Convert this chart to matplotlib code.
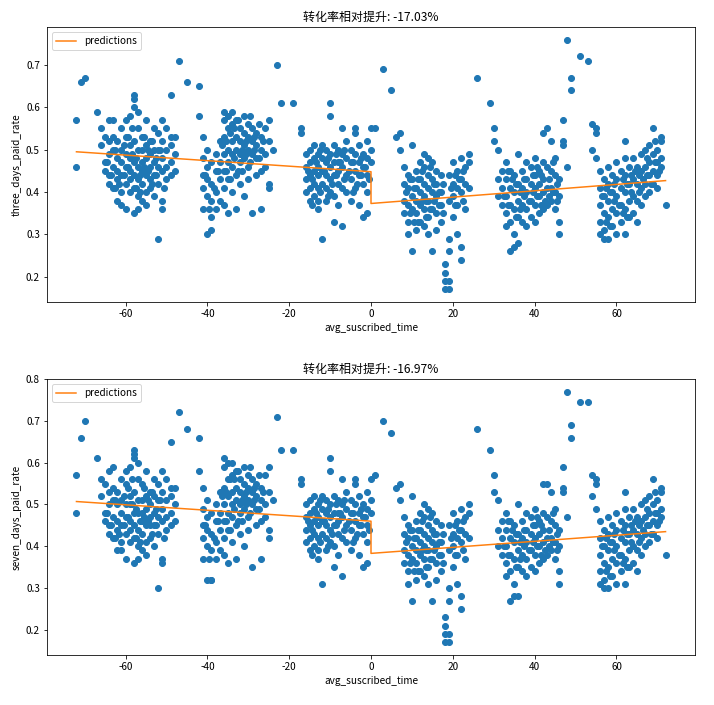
import matplotlib
matplotlib.use("Agg")
import matplotlib.pyplot as plt

plt.rcParams['font.family'] = ['Noto Sans CJK SC', 'DejaVu Sans']
plt.rcParams['axes.unicode_minus'] = False

# avg_suscribed_time clusters, with three / seven day paid rates
x_a = [-72, -72, -71, -70, -67, -66, -66, -65, -65, -65,
       -64, -64, -64, -64, -64, -63, -63, -63, -63, -63,
       -62, -62, -62, -62, -62, -61, -61, -61, -61, -61,
       -61, -60, -60, -60, -60, -60, -60, -59, -59, -59,
       -59, -59, -59, -58, -58, -58, -58, -58, -58, -58,
       -58, -57, -57, -57, -57, -57, -57, -57, -56, -56,
       -56, -56, -56, -56, -55, -55, -55, -55, -55, -55,
       -54, -54, -54, -54, -54, -53, -53, -53, -53, -53,
       -52, -52, -52, -52, -52, -51, -51, -51, -51, -51,
       -51, -50, -50, -50, -50, -49, -49, -49, -49, -49,
       -48, -48, -48,
       -64.5, -63.5, -62.5, -61.5, -60.5, -59.5, -58.5, -57.5, -56.5, -55.5,
       -54.5, -53.5, -52.5, -51.5, -50.5, -62.5, -60.5, -58.5, -56.5, -54.5,
       -52.5, -59.5, -57.5, -55.5, -53.5]
y3_a = [0.57, 0.46, 0.66, 0.67, 0.59, 0.55, 0.51, 0.53, 0.47, 0.45,
        0.57, 0.52, 0.49, 0.44, 0.42, 0.57, 0.53, 0.50, 0.46, 0.41,
        0.52, 0.48, 0.45, 0.43, 0.38, 0.55, 0.50, 0.47, 0.44, 0.40,
        0.37, 0.57, 0.53, 0.49, 0.46, 0.42, 0.36, 0.58, 0.51, 0.48,
        0.45, 0.43, 0.40, 0.63, 0.62, 0.60, 0.52, 0.47, 0.44, 0.41,
        0.35, 0.59, 0.55, 0.50, 0.46, 0.43, 0.39, 0.36, 0.53, 0.50,
        0.47, 0.45, 0.42, 0.38, 0.57, 0.51, 0.48, 0.44, 0.40, 0.37,
        0.52, 0.49, 0.46, 0.43, 0.41, 0.55, 0.50, 0.47, 0.44, 0.39,
        0.54, 0.50, 0.46, 0.42, 0.29, 0.57, 0.52, 0.48, 0.45, 0.38,
        0.36, 0.55, 0.50, 0.46, 0.43, 0.63, 0.53, 0.51, 0.47, 0.44,
        0.53, 0.49, 0.45,
        0.47, 0.44, 0.50, 0.42, 0.51, 0.46, 0.49, 0.41, 0.44, 0.53,
        0.45, 0.42, 0.48, 0.50, 0.41, 0.41, 0.44, 0.55, 0.40, 0.50,
        0.44, 0.53, 0.48, 0.46, 0.52]
y7_a = [0.57, 0.48, 0.66, 0.70, 0.61, 0.56, 0.52, 0.55, 0.48, 0.46,
        0.58, 0.53, 0.50, 0.45, 0.43, 0.59, 0.54, 0.51, 0.47, 0.42,
        0.53, 0.50, 0.46, 0.44, 0.39, 0.56, 0.51, 0.48, 0.45, 0.41,
        0.39, 0.58, 0.55, 0.50, 0.47, 0.43, 0.37, 0.59, 0.52, 0.50,
        0.46, 0.44, 0.41, 0.63, 0.62, 0.61, 0.53, 0.48, 0.45, 0.42,
        0.36, 0.60, 0.56, 0.51, 0.48, 0.44, 0.40, 0.37, 0.55, 0.51,
        0.48, 0.46, 0.43, 0.39, 0.58, 0.52, 0.49, 0.45, 0.41, 0.38,
        0.53, 0.50, 0.47, 0.45, 0.42, 0.56, 0.52, 0.48, 0.45, 0.40,
        0.55, 0.51, 0.47, 0.43, 0.30, 0.58, 0.53, 0.49, 0.46, 0.37,
        0.36, 0.56, 0.51, 0.47, 0.44, 0.65, 0.54, 0.52, 0.48, 0.45,
        0.54, 0.50, 0.46,
        0.48, 0.45, 0.51, 0.43, 0.52, 0.47, 0.50, 0.42, 0.46, 0.54,
        0.46, 0.43, 0.49, 0.51, 0.42, 0.42, 0.45, 0.56, 0.41, 0.51,
        0.45, 0.54, 0.49, 0.47, 0.53]

x_b = [-47, -45, -42, -42, -41, -41, -41, -41, -41, -40,
       -40, -40, -40, -40, -39, -39, -39, -39, -39, -38,
       -38, -38, -38, -37, -37, -37, -37, -36, -36, -36,
       -36, -36, -36, -36, -35, -35, -35, -35, -35, -35,
       -34, -34, -34, -34, -34, -34, -33, -33, -33, -33,
       -33, -32, -32, -32, -32, -32, -31, -31, -31, -31,
       -31, -30, -30, -30, -30, -30, -29, -29, -29, -29,
       -28, -28, -28, -28, -27, -27, -27, -27, -26, -26,
       -26, -25, -25, -25, -25, -24,
       -40.5, -39.5, -38.5, -37.5, -36.5, -35.5, -34.5, -33.5, -32.5, -31.5,
       -30.5, -29.5, -28.5, -27.5, -26.5, -35.5, -33.5, -31.5, -29.5, -27.5,
       -34.5, -32.5, -30.5, -28.5]
y3_b = [0.71, 0.66, 0.65, 0.58, 0.53, 0.48, 0.44, 0.41, 0.36, 0.50,
        0.46, 0.43, 0.39, 0.30, 0.47, 0.42, 0.38, 0.34, 0.31, 0.49,
        0.45, 0.40, 0.36, 0.52, 0.47, 0.43, 0.38, 0.59, 0.57, 0.53,
        0.49, 0.45, 0.41, 0.37, 0.58, 0.55, 0.50, 0.47, 0.43, 0.35,
        0.59, 0.56, 0.52, 0.49, 0.46, 0.40, 0.57, 0.53, 0.50, 0.44,
        0.36, 0.55, 0.52, 0.49, 0.47, 0.42, 0.58, 0.54, 0.51, 0.48,
        0.39, 0.56, 0.53, 0.50, 0.46, 0.43, 0.55, 0.52, 0.49, 0.35,
        0.54, 0.51, 0.48, 0.44, 0.53, 0.50, 0.45, 0.36, 0.55, 0.49,
        0.46, 0.57, 0.52, 0.42, 0.41, 0.50,
        0.44, 0.36, 0.41, 0.45, 0.51, 0.52, 0.54, 0.48, 0.57, 0.45,
        0.52, 0.47, 0.50, 0.56, 0.52, 0.45, 0.55, 0.50, 0.58, 0.48,
        0.43, 0.45, 0.49, 0.53]
y7_b = [0.72, 0.68, 0.66, 0.58, 0.54, 0.49, 0.45, 0.42, 0.37, 0.51,
        0.47, 0.44, 0.40, 0.32, 0.48, 0.43, 0.39, 0.32, 0.32, 0.50,
        0.46, 0.41, 0.37, 0.53, 0.48, 0.44, 0.39, 0.61, 0.59, 0.54,
        0.50, 0.46, 0.42, 0.38, 0.60, 0.56, 0.52, 0.48, 0.44, 0.36,
        0.60, 0.57, 0.53, 0.50, 0.47, 0.41, 0.58, 0.54, 0.51, 0.45,
        0.37, 0.56, 0.53, 0.50, 0.48, 0.43, 0.59, 0.55, 0.52, 0.49,
        0.40, 0.57, 0.54, 0.51, 0.47, 0.44, 0.56, 0.53, 0.50, 0.35,
        0.55, 0.52, 0.49, 0.45, 0.54, 0.51, 0.46, 0.37, 0.57, 0.50,
        0.47, 0.59, 0.53, 0.44, 0.42, 0.51,
        0.45, 0.37, 0.42, 0.46, 0.52, 0.53, 0.56, 0.49, 0.58, 0.46,
        0.53, 0.48, 0.51, 0.57, 0.53, 0.46, 0.56, 0.51, 0.59, 0.49,
        0.44, 0.46, 0.50, 0.54]

x_c = [-23, -22, -19, -17, -17, -16, -16, -16, -16, -15,
       -15, -15, -15, -15, -14, -14, -14, -14, -14, -13,
       -13, -13, -13, -13, -13, -12, -12, -12, -12, -12,
       -11, -11, -11, -11, -11, -10, -10, -10, -10, -10,
       -10, -9, -9, -9, -9, -9, -8, -8, -8, -8,
       -8, -7, -7, -7, -7, -7, -6, -6, -6, -6,
       -5, -5, -5, -5, -4, -4, -4, -4, -4, -3,
       -3, -3, -3, -2, -2, -2, -2, -1, -1, -1,
       -1, -1, 0, 0, 0,
       -15.5, -14.5, -13.5, -12.5, -11.5, -10.5, -9.5, -8.5, -7.5, -6.5,
       -5.5, -4.5, -3.5, -2.5, -1.5, -14.5, -12.5, -10.5, -8.5, -6.5,
       -4.5, -2.5, -0.5]
y3_c = [0.70, 0.61, 0.61, 0.55, 0.54, 0.49, 0.46, 0.43, 0.40, 0.50,
        0.47, 0.44, 0.41, 0.38, 0.51, 0.48, 0.45, 0.42, 0.39, 0.49,
        0.46, 0.44, 0.41, 0.38, 0.36, 0.51, 0.48, 0.45, 0.42, 0.29,
        0.50, 0.47, 0.44, 0.41, 0.38, 0.61, 0.58, 0.49, 0.46, 0.43,
        0.40, 0.51, 0.47, 0.44, 0.39, 0.33, 0.50, 0.47, 0.45, 0.42,
        0.37, 0.55, 0.49, 0.46, 0.41, 0.32, 0.52, 0.48, 0.44, 0.40,
        0.50, 0.47, 0.43, 0.38, 0.55, 0.54, 0.49, 0.45, 0.41, 0.51,
        0.47, 0.44, 0.37, 0.49, 0.46, 0.42, 0.34, 0.52, 0.48, 0.44,
        0.40, 0.35, 0.55, 0.50, 0.47,
        0.45, 0.43, 0.47, 0.40, 0.45, 0.48, 0.42, 0.44, 0.47, 0.43,
        0.45, 0.47, 0.42, 0.44, 0.46, 0.37, 0.50, 0.39, 0.49, 0.50,
        0.40, 0.48, 0.43]
y7_c = [0.71, 0.63, 0.63, 0.56, 0.55, 0.50, 0.47, 0.44, 0.41, 0.51,
        0.48, 0.45, 0.42, 0.39, 0.52, 0.49, 0.46, 0.43, 0.40, 0.50,
        0.47, 0.45, 0.42, 0.39, 0.37, 0.52, 0.49, 0.46, 0.43, 0.31,
        0.51, 0.48, 0.45, 0.42, 0.39, 0.61, 0.58, 0.50, 0.47, 0.44,
        0.41, 0.52, 0.48, 0.45, 0.40, 0.35, 0.51, 0.48, 0.46, 0.43,
        0.38, 0.56, 0.50, 0.47, 0.42, 0.33, 0.53, 0.49, 0.45, 0.41,
        0.51, 0.48, 0.44, 0.39, 0.56, 0.55, 0.50, 0.46, 0.42, 0.52,
        0.48, 0.45, 0.38, 0.50, 0.47, 0.43, 0.35, 0.53, 0.49, 0.45,
        0.41, 0.36, 0.56, 0.51, 0.48,
        0.46, 0.44, 0.48, 0.41, 0.46, 0.49, 0.43, 0.45, 0.48, 0.44,
        0.46, 0.48, 0.43, 0.45, 0.47, 0.38, 0.51, 0.40, 0.50, 0.51,
        0.41, 0.49, 0.44]

x_d = [1, 3, 5, 6, 7, 7, 8, 8, 8, 8,
       9, 9, 9, 9, 9, 10, 10, 10, 10, 10,
       11, 11, 11, 11, 11, 12, 12, 12, 12, 12,
       13, 13, 13, 13, 13, 13, 14, 14, 14, 14,
       14, 14, 15, 15, 15, 15, 15, 16, 16, 16,
       16, 16, 17, 17, 17, 17, 18, 18, 18, 18,
       19, 19, 19, 19, 19, 19, 20, 20, 20, 20,
       21, 21, 21, 21, 22, 22, 22, 22, 22, 23,
       23, 23, 24, 24, 24,
       8.5, 9.5, 10.5, 11.5, 12.5, 13.5, 14.5, 15.5, 16.5, 17.5,
       19.5, 20.5, 21.5, 22.5, 9.5, 11.5, 13.5, 15.5, 17.5, 20.5,
       22.5, 10.5, 12.5, 14.5, 16.5]
y3_d = [0.55, 0.69, 0.64, 0.53, 0.54, 0.50, 0.46, 0.42, 0.38, 0.35,
        0.44, 0.41, 0.37, 0.33, 0.30, 0.51, 0.43, 0.39, 0.36, 0.26,
        0.45, 0.41, 0.38, 0.35, 0.31, 0.47, 0.43, 0.40, 0.37, 0.33,
        0.49, 0.46, 0.42, 0.39, 0.36, 0.32, 0.48, 0.44, 0.41, 0.38,
        0.34, 0.30, 0.47, 0.43, 0.40, 0.36, 0.26, 0.45, 0.42, 0.39,
        0.35, 0.31, 0.44, 0.40, 0.37, 0.33, 0.23, 0.21, 0.19, 0.17,
        0.19, 0.17, 0.44, 0.38, 0.29, 0.26, 0.47, 0.42, 0.39, 0.34,
        0.45, 0.41, 0.37, 0.30, 0.48, 0.43, 0.40, 0.27, 0.24, 0.46,
        0.42, 0.36, 0.49, 0.47, 0.41,
        0.40, 0.35, 0.41, 0.33, 0.45, 0.38, 0.36, 0.42, 0.37, 0.42,
        0.41, 0.37, 0.43, 0.38, 0.43, 0.43, 0.34, 0.38, 0.35, 0.44,
        0.45, 0.33, 0.38, 0.46, 0.40]
y7_d = [0.57, 0.70, 0.67, 0.54, 0.55, 0.51, 0.47, 0.43, 0.39, 0.36,
        0.45, 0.42, 0.38, 0.34, 0.31, 0.52, 0.44, 0.40, 0.37, 0.27,
        0.46, 0.42, 0.39, 0.36, 0.32, 0.48, 0.44, 0.41, 0.38, 0.34,
        0.50, 0.47, 0.43, 0.40, 0.37, 0.33, 0.49, 0.45, 0.42, 0.39,
        0.35, 0.31, 0.48, 0.44, 0.41, 0.37, 0.27, 0.46, 0.43, 0.40,
        0.36, 0.32, 0.45, 0.41, 0.38, 0.34, 0.23, 0.21, 0.19, 0.17,
        0.19, 0.17, 0.45, 0.39, 0.30, 0.27, 0.48, 0.43, 0.40, 0.35,
        0.46, 0.42, 0.38, 0.31, 0.49, 0.44, 0.41, 0.28, 0.25, 0.47,
        0.43, 0.37, 0.50, 0.48, 0.42,
        0.41, 0.36, 0.42, 0.34, 0.46, 0.39, 0.37, 0.43, 0.38, 0.43,
        0.42, 0.38, 0.44, 0.39, 0.44, 0.44, 0.35, 0.39, 0.36, 0.45,
        0.46, 0.34, 0.39, 0.47, 0.41]

x_e = [26, 29, 30, 30, 31, 31, 31, 32, 32, 32,
       33, 33, 33, 33, 33, 34, 34, 34, 34, 34,
       35, 35, 35, 35, 35, 36, 36, 36, 36, 36,
       37, 37, 37, 37, 38, 38, 38, 38, 38, 39,
       39, 39, 39, 40, 40, 40, 40, 40, 41, 41,
       41, 41, 42, 42, 42, 42, 42, 43, 43, 43,
       43, 44, 44, 44, 44, 45, 45, 45, 45, 46,
       46, 46, 46, 47, 47, 47, 48,
       32.5, 33.5, 34.5, 35.5, 36.5, 37.5, 38.5, 39.5, 40.5, 41.5,
       42.5, 43.5, 44.5, 45.5, 33.5, 35.5, 37.5, 39.5, 41.5, 43.5,
       45.5, 36.5, 40.5, 44.5]
y3_e = [0.67, 0.61, 0.55, 0.52, 0.50, 0.43, 0.39, 0.45, 0.41, 0.37,
        0.47, 0.43, 0.39, 0.35, 0.32, 0.45, 0.41, 0.37, 0.33, 0.26,
        0.44, 0.40, 0.36, 0.30, 0.27, 0.49, 0.42, 0.38, 0.34, 0.28,
        0.45, 0.41, 0.37, 0.33, 0.47, 0.43, 0.40, 0.36, 0.32, 0.46,
        0.42, 0.38, 0.34, 0.48, 0.44, 0.41, 0.37, 0.33, 0.45, 0.42,
        0.39, 0.35, 0.54, 0.47, 0.43, 0.40, 0.36, 0.55, 0.46, 0.41,
        0.37, 0.52, 0.45, 0.41, 0.38, 0.48, 0.44, 0.40, 0.36, 0.43,
        0.39, 0.33, 0.30, 0.57, 0.52, 0.51, 0.46,
        0.39, 0.37, 0.43, 0.42, 0.40, 0.43, 0.38, 0.44, 0.39, 0.44,
        0.38, 0.43, 0.40, 0.42, 0.45, 0.34, 0.39, 0.40, 0.37, 0.39,
        0.38, 0.36, 0.46, 0.47]
y7_e = [0.68, 0.63, 0.57, 0.53, 0.51, 0.44, 0.40, 0.46, 0.42, 0.38,
        0.48, 0.44, 0.40, 0.36, 0.33, 0.46, 0.42, 0.38, 0.34, 0.27,
        0.45, 0.41, 0.37, 0.31, 0.28, 0.50, 0.43, 0.39, 0.35, 0.28,
        0.46, 0.42, 0.38, 0.34, 0.48, 0.44, 0.41, 0.37, 0.33, 0.47,
        0.43, 0.39, 0.35, 0.49, 0.45, 0.42, 0.38, 0.34, 0.46, 0.43,
        0.40, 0.36, 0.55, 0.48, 0.44, 0.41, 0.37, 0.55, 0.47, 0.42,
        0.38, 0.53, 0.46, 0.42, 0.39, 0.49, 0.45, 0.41, 0.37, 0.44,
        0.40, 0.34, 0.31, 0.59, 0.54, 0.53, 0.47,
        0.40, 0.38, 0.44, 0.43, 0.41, 0.44, 0.39, 0.45, 0.40, 0.45,
        0.39, 0.44, 0.41, 0.43, 0.46, 0.35, 0.40, 0.41, 0.38, 0.40,
        0.39, 0.37, 0.47, 0.48]

x_f = [48, 49, 49, 51, 53, 54, 54, 55, 55, 55,
       56, 56, 56, 56, 56, 57, 57, 57, 57, 57,
       58, 58, 58, 58, 58, 59, 59, 59, 59, 60,
       60, 60, 60, 60, 61, 61, 61, 61, 62, 62,
       62, 62, 62, 62, 63, 63, 63, 63, 64, 64,
       64, 64, 65, 65, 65, 65, 66, 66, 66, 66,
       67, 67, 67, 67, 68, 68, 68, 68, 69, 69,
       69, 69, 70, 70, 70, 70, 71, 71, 71, 71,
       72,
       56.5, 57.5, 58.5, 59.5, 60.5, 61.5, 62.5, 63.5, 64.5, 65.5,
       66.5, 67.5, 68.5, 69.5, 70.5, 57.5, 59.5, 61.5, 63.5, 65.5,
       67.5, 69.5, 58.5, 62.5]
y3_f = [0.76, 0.67, 0.64, 0.72, 0.71, 0.56, 0.50, 0.55, 0.54, 0.48,
        0.45, 0.41, 0.37, 0.33, 0.30, 0.43, 0.39, 0.35, 0.31, 0.29,
        0.46, 0.42, 0.38, 0.34, 0.29, 0.44, 0.40, 0.36, 0.32, 0.47,
        0.43, 0.39, 0.35, 0.30, 0.45, 0.41, 0.37, 0.33, 0.52, 0.48,
        0.44, 0.40, 0.36, 0.30, 0.46, 0.42, 0.38, 0.34, 0.48, 0.43,
        0.39, 0.35, 0.46, 0.42, 0.38, 0.33, 0.49, 0.45, 0.41, 0.37,
        0.50, 0.46, 0.42, 0.39, 0.51, 0.47, 0.44, 0.40, 0.55, 0.49,
        0.45, 0.42, 0.50, 0.47, 0.44, 0.41, 0.53, 0.52, 0.48, 0.46,
        0.37,
        0.39, 0.41, 0.40, 0.42, 0.37, 0.43, 0.42, 0.40, 0.45, 0.40,
        0.43, 0.44, 0.42, 0.47, 0.45, 0.33, 0.38, 0.35, 0.44, 0.44,
        0.48, 0.52, 0.32, 0.34]
y7_f = [0.77, 0.69, 0.66, 0.745, 0.745, 0.57, 0.52, 0.56, 0.55, 0.49,
        0.46, 0.42, 0.38, 0.34, 0.31, 0.44, 0.40, 0.36, 0.32, 0.30,
        0.47, 0.43, 0.39, 0.35, 0.30, 0.45, 0.41, 0.37, 0.33, 0.48,
        0.44, 0.40, 0.36, 0.31, 0.46, 0.42, 0.38, 0.34, 0.53, 0.49,
        0.45, 0.41, 0.37, 0.31, 0.47, 0.43, 0.39, 0.35, 0.49, 0.44,
        0.40, 0.36, 0.47, 0.43, 0.39, 0.34, 0.50, 0.46, 0.42, 0.38,
        0.51, 0.47, 0.43, 0.40, 0.52, 0.48, 0.45, 0.41, 0.56, 0.50,
        0.46, 0.43, 0.51, 0.48, 0.45, 0.42, 0.54, 0.53, 0.49, 0.47,
        0.38,
        0.40, 0.42, 0.41, 0.43, 0.38, 0.44, 0.43, 0.41, 0.46, 0.41,
        0.44, 0.45, 0.43, 0.48, 0.46, 0.34, 0.39, 0.36, 0.45, 0.45,
        0.49, 0.53, 0.33, 0.35]

# fitted predictions (left and right of the cutoff at 0)
pred_x = [-72, 0, 0, 72]
pred_3 = [0.495, 0.448, 0.373, 0.427]
pred_7 = [0.507, 0.460, 0.383, 0.435]

titles = ["转化率相对提升: -17.03%", "转化率相对提升: -16.97%"]
ylabels = ["three_days_paid_rate", "seven_days_paid_rate"]

x_all = x_a + x_b + x_c + x_d + x_e + x_f
y3_all = y3_a + y3_b + y3_c + y3_d + y3_e + y3_f
y7_all = y7_a + y7_b + y7_c + y7_d + y7_e + y7_f

fig = plt.figure(figsize=(714 / 72, 705 / 72), dpi=72)
ax1 = fig.add_axes([47 / 714, 1 - 302 / 705, 648 / 714, 275 / 705])
ax2 = fig.add_axes([47 / 714, 1 - 655 / 705, 648 / 714, 276 / 705])

for ax, ys, pred, title, ylab in zip([ax1, ax2], [y3_all, y7_all], [pred_3, pred_7], titles, ylabels):
    ax.scatter(x_all, ys, s=36, color="#1f77b4")
    ax.plot(pred_x, pred, color="#ff7f0e", label="predictions")
    ax.set_title(title, fontsize=12)
    ax.set_xlabel("avg_suscribed_time", fontsize=10)
    ax.set_ylabel(ylab, fontsize=10)
    ax.legend(loc="upper left", fontsize=10)

fig.savefig("out.png", dpi=72)
